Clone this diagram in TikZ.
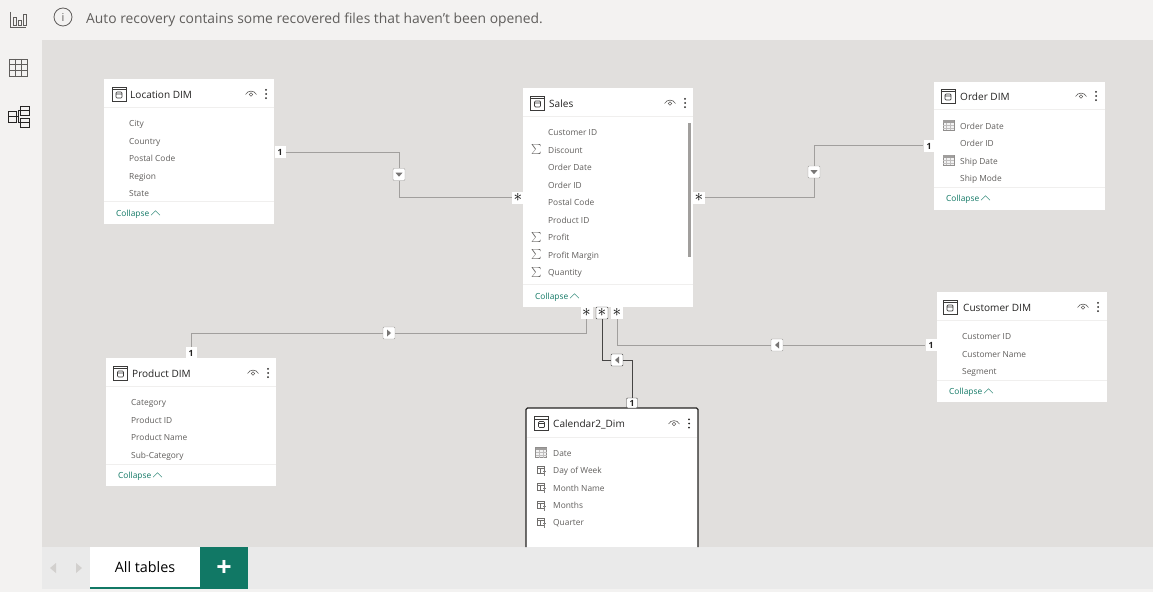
\documentclass[tikz,border=0pt]{standalone}
\usepackage{fontspec}
\setmainfont{Open Sans}
\definecolor{pagegrey}{HTML}{F3F2F1}
\definecolor{canvasgrey}{HTML}{E1DFDD}
\definecolor{barfill}{HTML}{EAEAEA}
\definecolor{fieldgrey}{HTML}{605E5C}
\definecolor{titledark}{HTML}{252423}
\definecolor{tealgreen}{HTML}{117865}
\definecolor{linegrey}{HTML}{A19F9D}
\definecolor{divgrey}{HTML}{F0EFEE}
\definecolor{arrowpale}{HTML}{D2D0CE}
\tikzset{
  card/.style={fill=white,draw=none},
  cardtitle/.style={anchor=west,inner sep=0pt,text height=8bp,text depth=2.5bp,yshift=-1.4bp,text=titledark,font=\fontsize{10.1}{12}\selectfont},
  fieldtxt/.style={anchor=west,inner sep=0pt,text height=6.5bp,text depth=2bp,yshift=-1.3bp,text=fieldgrey,font=\fontsize{8.4}{10}\selectfont},
  collapsetxt/.style={anchor=west,inner sep=0pt,text height=6.5bp,text depth=2bp,yshift=-1.3bp,text=tealgreen,font=\fontsize{8.4}{10}\selectfont},
  sumtxt/.style={inner sep=0pt,text=fieldgrey,font=\fontsize{9}{10}\selectfont},
  endbox/.style={fill=white,inner sep=0pt,minimum width=12bp,minimum height=12bp,text=titledark,font=\fontsize{8.6}{10}\bfseries\selectfont},
  starbox/.style={fill=white,inner sep=0pt,minimum width=12bp,minimum height=12bp,text height=6.5bp,text depth=0bp,text width=9bp,align=center,text=black,font=\fontsize{17}{17}\selectfont},
  markbox/.style={fill=white,draw=linegrey,rounded corners=1bp,inner sep=0pt,minimum size=12bp},
  markdown/.style={markbox,path picture={\fill[fieldgrey!85,sharp corners] ([shift={(-3.5bp,1.8bp)}]path picture bounding box.center) -- ++(7bp,0) -- ++(-3.5bp,-4bp) -- cycle;}},
  markleft/.style={markbox,path picture={\fill[fieldgrey!85,sharp corners] ([shift={(2bp,-3.5bp)}]path picture bounding box.center) -- ++(0,7bp) -- ++(-4bp,-3.5bp) -- cycle;}},
  markright/.style={markbox,path picture={\fill[fieldgrey!85,sharp corners] ([shift={(-2bp,-3.5bp)}]path picture bounding box.center) -- ++(0,7bp) -- ++(4bp,-3.5bp) -- cycle;}},
  relline/.style={draw=linegrey,line width=1bp},
  reldark/.style={draw=titledark!85,line width=1bp},
  tableicon/.pic={
    \draw[titledark!90,line width=.8bp] (-7,-7) rectangle (7,7) (-7,-4.5) -- (7,-4.5);
    \draw[titledark!90,line width=.7bp,rounded corners=1bp] (-3,-2) rectangle (3,4) (-3,0) -- (3,0);
  },
  eyeicon/.pic={
    \draw[fieldgrey,line width=.6bp] (-5.5,0.5) .. controls (-3,-4) and (3,-4) .. (5.5,0.5);
    \draw[fieldgrey,line width=.6bp] (0,0.5) circle (1.8);
  },
  dotsicon/.pic={
    \fill[titledark] (0,-4.2) circle (1) (0,0) circle (1) (0,4.2) circle (1);
  },
  chevicon/.pic={
    \draw[tealgreen!80,line width=.6bp] (-4.5,2.2) -- (0,-2.2) -- (4.5,2.2);
  },
  calicon/.pic={
    \draw[fieldgrey!70,line width=.6bp,fill=fieldgrey!8] (-5.5,-5) rectangle (5.5,5);
    \fill[fieldgrey!60] (-5.5,-5) rectangle (5.5,-2.5);
    \draw[fieldgrey!40,line width=.4bp] (-5.5,0) -- (5.5,0) (-5.5,2.5) -- (5.5,2.5) (-2,-2.5) -- (-2,5) (2,-2.5) -- (2,5);
  },
  calcicon/.pic={
    \draw[fieldgrey!90,line width=.6bp] (-4.5,-4.5) rectangle (2.5,3) (-4.5,-2) -- (2.5,-2) (-1,-2) -- (-1,3);
    \draw[fieldgrey!80,line width=.6bp] (1.5,1) -- (4.5,1) (3,0) -- (3,5);
  },
}
\begin{document}
\begin{tikzpicture}[x=1bp,y=-1bp]
    %% page, canvas and bars
    \useasboundingbox (0,0) rectangle (1153,592);
    \fill[pagegrey] (0,0) rectangle (1153,592);
    \fill[canvasgrey] (42,40) rectangle (1153,547);
    \fill[barfill] (42,547) rectangle (1153,589);
    %% left rail
    \draw[fieldgrey,line width=.7bp] (10,12) -- (10,27) -- (26,27);
    \draw[fieldgrey,line width=.7bp] (13,17) rectangle (16,25) (18,20) rectangle (21,25) (23,14) rectangle (26,25);
    \draw[fieldgrey,line width=.7bp] (9,59) rectangle (27,76) (9,64) -- (27,64) (9,70) -- (27,70) (15,59) -- (15,76) (21,59) -- (21,76);
    \draw[titledark,line width=.9bp] (8,111) rectangle (16,122) (8,116.5) -- (16,116.5) (20,106) rectangle (29,115.5) (20,110.7) -- (29,110.7) (20,118) rectangle (29,127) (20,122.5) -- (29,122.5) (16,116.5) -- (18,116.5) (18,110.7) -- (20,110.7) (18,110.7) -- (18,122.5) -- (20,122.5);
    %% message
    \node[draw=fieldgrey,circle,minimum size=18bp,inner sep=0pt,text=fieldgrey,line width=.8bp,font=\fontsize{11}{12}\selectfont] (infosign) at (63,17) {i};
    \node[anchor=west,inner sep=0pt,yshift=-1.6bp,text=fieldgrey,font=\fontsize{13.9}{15}\selectfont] (infotxt) at (86,18) {Auto recovery contains some recovered files that haven't been opened.};
    %% tab bar
    \fill[arrowpale] (50,568) -- (56,563) -- (56,573) -- cycle;
    \fill[arrowpale] (82,568) -- (76,563) -- (76,573) -- cycle;
    \node[fill=white,minimum width=110bp,minimum height=41bp,inner sep=0pt,text=black,font=\fontsize{14.4}{16}\selectfont] (alltab) at (145,567.5) {All tables};
    \draw[tealgreen,line width=2bp] (90,588) -- (200,588);
    \node[fill=tealgreen,minimum width=48bp,minimum height=42bp,inner sep=0pt,text=white,font=\fontsize{27}{28}\bfseries\selectfont] (addtab) at (224,568) {+};
    %% location table
    \node[card,minimum width=170bp,minimum height=145bp] (loc) at (189,151.5) {};
    \pic at (119,94) {tableicon};
    \node[cardtitle] (loctitle) at (130,94) {Location DIM};
    \pic at (251,94) {eyeicon};
    \pic at (266,94) {dotsicon};
    \draw[divgrey] (104,107) -- (274,107) (104,201) -- (274,201);
    \node[fieldtxt] (loc1) at (129,123) {City};
    \node[fieldtxt] (loc2) at (129,140.5) {Country};
    \node[fieldtxt] (loc3) at (129,158) {Postal Code};
    \node[fieldtxt] (loc4) at (129,175.5) {Region};
    \node[fieldtxt] (loc5) at (129,193) {State};
    \node[collapsetxt] (loccollapse) at (116,213) {Collapse};
    \pic at (155.5,213) {chevicon};
    %% sales table
    \node[card,minimum width=170bp,minimum height=219bp] (sales) at (608,197.5) {};
    \pic at (537.5,103) {tableicon};
    \node[cardtitle] (salestitle) at (549,103) {Sales};
    \pic at (670,103) {eyeicon};
    \pic at (685,103) {dotsicon};
    \draw[divgrey] (523,116) -- (693,116) (523,284) -- (693,284);
    \fill[linegrey] (688,123) rectangle (691,257);
    \node[fieldtxt] (sales1) at (548,132) {Customer ID};
    \node[fieldtxt] (sales2) at (548,149.5) {Discount};
    \node[fieldtxt] (sales3) at (548,167) {Order Date};
    \node[fieldtxt] (sales4) at (548,184.5) {Order ID};
    \node[fieldtxt] (sales5) at (548,202) {Postal Code};
    \node[fieldtxt] (sales6) at (548,219.5) {Product ID};
    \node[fieldtxt] (sales7) at (548,237) {Profit};
    \node[fieldtxt] (sales8) at (548,254.5) {Profit Margin};
    \node[fieldtxt] (sales9) at (548,272) {Quantity};
    \node[sumtxt] (sum2) at (536.5,149.5) {$\sum$};
    \node[sumtxt] (sum7) at (536.5,237) {$\sum$};
    \node[sumtxt] (sum8) at (536.5,254.5) {$\sum$};
    \node[sumtxt] (sum9) at (536.5,272) {$\sum$};
    \node[collapsetxt] (salescollapse) at (535,296) {Collapse};
    \pic at (574.5,296) {chevicon};
    %% order table
    \node[card,minimum width=171bp,minimum height=128bp] (order) at (1019.5,146) {};
    \pic at (948,96) {tableicon};
    \node[cardtitle] (ordertitle) at (960,96) {Order DIM};
    \pic at (1081,96) {eyeicon};
    \pic at (1096,96) {dotsicon};
    \draw[divgrey] (934,109) -- (1105,109) (934,187) -- (1105,187);
    \node[fieldtxt] (order1) at (960,125.5) {Order Date};
    \node[fieldtxt] (order2) at (960,143) {Order ID};
    \node[fieldtxt] (order3) at (960,160.5) {Ship Date};
    \node[fieldtxt] (order4) at (960,178) {Ship Mode};
    \pic at (948.5,125.5) {calicon};
    \pic at (948.5,160.5) {calicon};
    \node[collapsetxt] (ordercollapse) at (946,198) {Collapse};
    \pic at (985.5,198) {chevicon};
    %% customer table
    \node[card,minimum width=170bp,minimum height=110bp] (cust) at (1022,347) {};
    \pic at (950,307) {tableicon};
    \node[cardtitle] (custtitle) at (963,307) {Customer DIM};
    \pic at (1083,307) {eyeicon};
    \pic at (1098,307) {dotsicon};
    \draw[divgrey] (937,320) -- (1107,320) (937,380) -- (1107,380);
    \node[fieldtxt] (cust1) at (962,336) {Customer ID};
    \node[fieldtxt] (cust2) at (962,353.5) {Customer Name};
    \node[fieldtxt] (cust3) at (962,371) {Segment};
    \node[collapsetxt] (custcollapse) at (949,391) {Collapse};
    \pic at (988.5,391) {chevicon};
    %% product table
    \node[card,minimum width=170bp,minimum height=128bp] (prod) at (191,422) {};
    \pic at (120.5,373) {tableicon};
    \node[cardtitle] (prodtitle) at (132,373) {Product DIM};
    \pic at (253,373) {eyeicon};
    \pic at (268,373) {dotsicon};
    \draw[divgrey] (106,386) -- (276,386) (106,464) -- (276,464);
    \node[fieldtxt] (prod1) at (131,402) {Category};
    \node[fieldtxt] (prod2) at (131,419.5) {Product ID};
    \node[fieldtxt] (prod3) at (131,437) {Product Name};
    \node[fieldtxt] (prod4) at (131,454.5) {Sub-Category};
    \node[collapsetxt] (prodcollapse) at (118,475) {Collapse};
    \pic at (157.5,475) {chevicon};
    %% calendar table
    \fill[white] (526,408) rectangle (698,547);
    \draw[titledark,line width=1.4bp,rounded corners=1.5bp] (526,547) -- (526,408) -- (698,408) -- (698,547);
    \pic at (541.5,423.5) {tableicon};
    \node[cardtitle] (caltitle) at (553,423.5) {Calendar2\_Dim};
    \pic at (674,423.5) {eyeicon};
    \pic at (689,423.5) {dotsicon};
    \draw[divgrey] (527,437) -- (697,437);
    \node[fieldtxt] (cal1) at (553,452.5) {Date};
    \node[fieldtxt] (cal2) at (553,470) {Day of Week};
    \node[fieldtxt] (cal3) at (553,487.5) {Month Name};
    \node[fieldtxt] (cal4) at (553,505) {Months};
    \node[fieldtxt] (cal5) at (553,522) {Quarter};
    \pic at (541,452.5) {calicon};
    \pic at (541.5,470.5) {calcicon};
    \pic at (541.5,487.5) {calcicon};
    \pic at (541.5,505.5) {calcicon};
    \pic at (541.5,522.5) {calcicon};
    %% relationship ends
    \node[endbox,minimum width=11bp] (locone) at (280,152.5) {1};
    \node[starbox] (salesleft) at (518,198) {$\ast$};
    \node[starbox] (salesright) at (699,198) {$\ast$};
    \node[endbox,minimum width=11bp] (orderone) at (929,146) {1};
    \node[starbox] (salesprod) at (586.5,313) {$\ast$};
    \node[starbox,draw=titledark!85,rounded corners=1bp] (salescal) at (602,313) {$\ast$};
    \node[starbox] (salescust) at (617,313) {$\ast$};
    \node[endbox,minimum width=11bp] (prodone) at (191,353) {1};
    \node[endbox,minimum width=11bp] (custone) at (931,345) {1};
    \node[endbox,minimum width=11bp,minimum height=10bp,draw=titledark!85,rounded corners=1bp] (calone) at (632,403) {1};
    %% relationship marks
    \node[markdown] (locmark) at (399,174.5) {};
    \node[markdown] (ordermark) at (814,172) {};
    \node[markright] (prodmark) at (389,333) {};
    \node[markleft] (custmark) at (777,345) {};
    \node[markleft,draw=titledark!85] (calmark) at (617,360) {};
    %% relationships
    \draw[relline] (locone) -| (locmark) |- (salesleft);
    \draw[relline] (salesright) -| (ordermark) |- (orderone);
    \draw[relline] (prodone) |- (prodmark) -| (salesprod);
    \draw[relline] (custone) -- (custmark) -| (salescust);
    \draw[reldark] (salescal) |- (calmark) -| (calone);
    %
\end{tikzpicture}
\end{document}
